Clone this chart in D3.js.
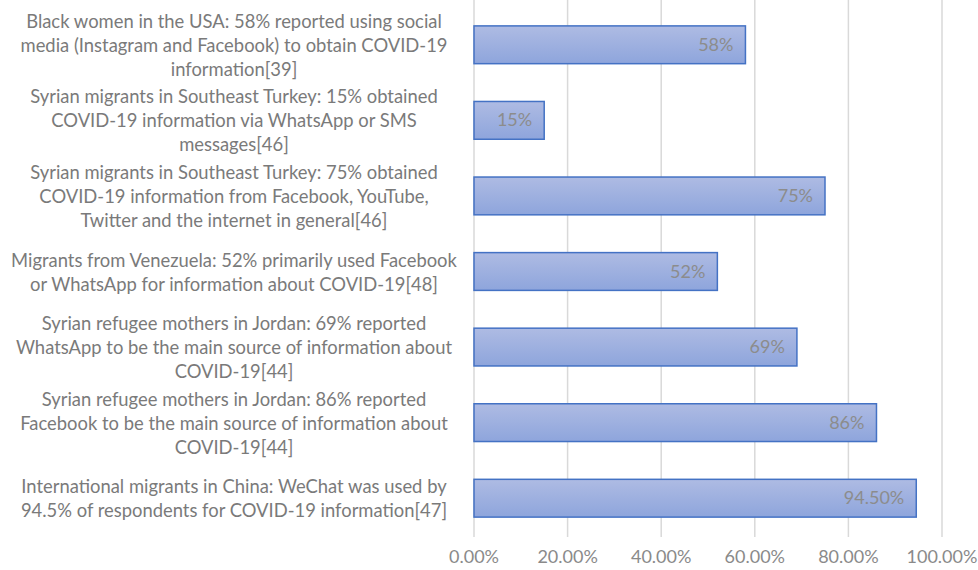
<!DOCTYPE html>
<html>
<head>
<meta charset="utf-8">
<script src="https://d3js.org/d3.v7.min.js"></script>
<style>
  body { margin: 0; background: #fff; }
  svg text { font-family: Lato, "Open Sans", sans-serif; }
</style>
</head>
<body>
<svg width="978" height="570"></svg>
<script>
var width = 978,
    height = 570;

// categories, top to bottom, split into the lines Excel shows
var labels = [
  ["Black women in the USA: 58% reported using social", "media (Instagram and Facebook) to obtain COVID-19", "information[39]"],
  ["Syrian migrants in Southeast Turkey: 15% obtained", "COVID-19 information via WhatsApp or SMS", "messages[46]"],
  ["Syrian migrants in Southeast Turkey: 75% obtained", "COVID-19 information from Facebook, YouTube,", "Twitter and the internet in general[46]"],
  ["Migrants from Venezuela: 52% primarily used Facebook", "or WhatsApp for information about COVID-19[48]"],
  ["Syrian refugee mothers in Jordan: 69% reported", "WhatsApp to be the main source of information about", "COVID-19[44]"],
  ["Syrian refugee mothers in Jordan: 86% reported", "Facebook to be the main source of information about", "COVID-19[44]"],
  ["International migrants in China: WeChat was used by", "94.5% of respondents for COVID-19 information[47]"]
];
var values = [0.58, 0.15, 0.75, 0.52, 0.69, 0.86, 0.945];
var valueLabels = ["58%", "15%", "75%", "52%", "69%", "86%", "94.50%"];
var ticks = [0, 0.2, 0.4, 0.6, 0.8, 1.0];

var svg = d3.select("svg");

var x = d3.scaleLinear().domain([0, 1]).range([474, 942]);
var y = d3.scaleBand()
  .domain(d3.range(values.length))
  .range([7, 536])
  .paddingInner(0.5)
  .paddingOuter(0.25);

// bar gradient
var grad = svg.append("defs").append("linearGradient")
  .attr("id", "barfill")
  .attr("x1", 0).attr("y1", 0).attr("x2", 0).attr("y2", 1);
grad.append("stop").attr("offset", "0%").attr("stop-color", "#aebbe3");
grad.append("stop").attr("offset", "100%").attr("stop-color", "#8ea5dc");

// gridlines
svg.append("g")
  .selectAll("line")
  .data(ticks)
  .enter().append("line")
  .attr("x1", function(d) { return x(d); })
  .attr("x2", function(d) { return x(d); })
  .attr("y1", 0)
  .attr("y2", 537)
  .attr("stroke", "#d9d9d9")
  .attr("stroke-width", 1.5);

// x tick labels
svg.append("g")
  .selectAll("text")
  .data(ticks)
  .enter().append("text")
  .attr("x", function(d) { return x(d); })
  .attr("y", 563)
  .attr("text-anchor", "middle")
  .attr("font-size", 18)
  .attr("fill", "#8a8a8a")
  .text(d3.format(".2%"));

// bars
svg.append("g")
  .selectAll("rect")
  .data(values)
  .enter().append("rect")
  .attr("x", x(0))
  .attr("y", function(d, i) { return y(i); })
  .attr("width", function(d) { return x(d) - x(0); })
  .attr("height", y.bandwidth())
  .attr("fill", "url(#barfill)")
  .attr("stroke", "#4472c4")
  .attr("stroke-width", 1.5);

// value labels inside bars
svg.append("g")
  .selectAll("text")
  .data(values)
  .enter().append("text")
  .attr("x", function(d) { return x(d) - 12; })
  .attr("y", function(d, i) { return y(i) + y.bandwidth() / 2 + 6; })
  .attr("text-anchor", "end")
  .attr("font-size", 18)
  .attr("fill", "#8c8c8c")
  .text(function(d, i) { return valueLabels[i]; });

// category labels
var lineH = 24;
var cat = svg.append("g")
  .selectAll("text")
  .data(labels)
  .enter().append("text")
  .attr("text-anchor", "middle")
  .attr("font-size", 18.4)
  .attr("fill", "#7a7a7a");

cat.each(function(lines, i) {
  var cy = y(i) + y.bandwidth() / 2;
  var top = cy - (lines.length - 1) * lineH / 2 + 7;
  d3.select(this).selectAll("tspan")
    .data(lines)
    .enter().append("tspan")
    .attr("x", 234)
    .attr("y", function(d, j) { return top + j * lineH; })
    .text(function(d) { return d; });
});
</script>
</body>
</html>
